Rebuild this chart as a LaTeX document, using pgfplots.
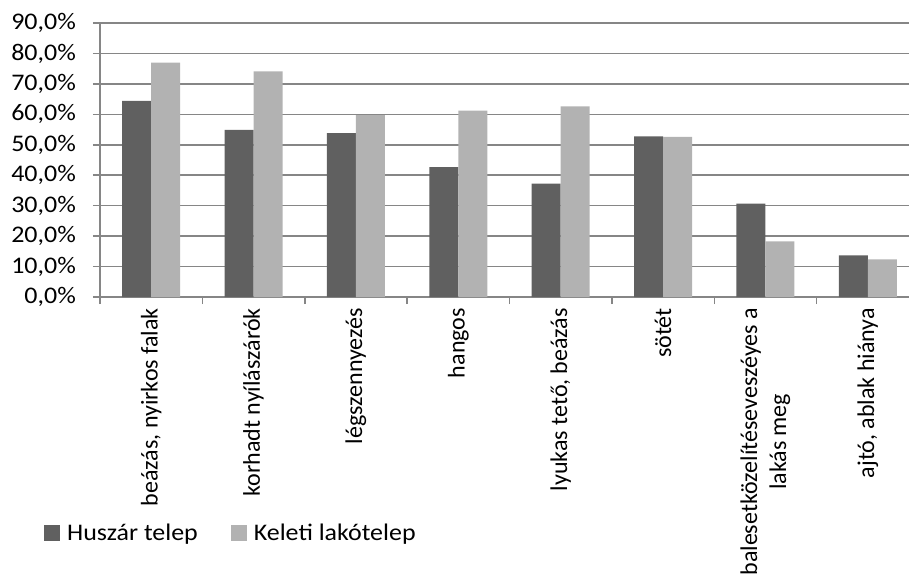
\documentclass[border=0pt]{standalone}
\usepackage{fontspec}
\setmainfont{Carlito}
\newfontfamily\hfont{Carlito}[FakeStretch=1.09]
\usepackage{pgfplots}
\pgfplotsset{compat=1.18}

\definecolor{huszar}{RGB}{96,96,96}
\definecolor{keleti}{RGB}{178,178,178}
\definecolor{gridc}{RGB}{134,134,134}

\begin{document}
\begin{tikzpicture}
\begin{axis}[
    name=ax,
    scale only axis,
    width=819pt, height=274pt,
    xmin=-0.5, xmax=7.5,
    ymin=0, ymax=90,
    axis x line*=bottom,
    axis y line*=left,
    axis line style={gridc, line width=1.5pt},
    ymajorgrids,
    grid style={gridc, line width=1.5pt},
    tick align=outside,
    major tick length=7pt,
    minor tick length=7pt,
    tick style={gridc, line width=1.5pt},
    ytick={0,10,...,90},
    yticklabels={{0,0\%},{10,0\%},{20,0\%},{30,0\%},{40,0\%},{50,0\%},{60,0\%},{70,0\%},{80,0\%},{90,0\%}},
    yticklabel style={font=\hfont\fontsize{23.8}{28}\selectfont, inner sep=0pt, xshift=-17pt},
    xtick={0,...,7},
    major x tick style={draw=none},
    minor xtick={-0.5,0.5,...,7.5},
    xticklabels={{beázás, nyirkos falak},{korhadt nyílászárók},{légszennyezés},{hangos},{lyukas tető, beázás},{sötét},{balesetközelítéseveszéyes a\\lakás meg},{ajtó, ablak hiánya}},
    xticklabel style={font=\fontsize{24}{29}\selectfont, rotate=90, anchor=east, align=center, inner sep=0pt, xshift=-4pt},
    ybar,
    bar width=0.283,
    legend columns=2,
    legend style={
        at={(axis description cs:-0.0684,-0.8613)}, anchor=west,
        draw=none, fill=none, inner sep=0pt,
        font=\hfont\fontsize{23.8}{28}\selectfont,
        nodes={inner sep=0pt},
        /tikz/every odd column/.append style={column sep=7pt},
        /tikz/every even column/.append style={column sep=33pt},
    },
    legend image code/.code={\fill[#1] (0pt,-8pt) rectangle (16pt,8pt);},
]
\addplot[fill=huszar, draw=none, bar shift=-0.1415] coordinates {
    (0,64.4) (1,54.9) (2,53.8) (3,42.7) (4,37.2) (5,52.8) (6,30.7) (7,13.7)
};
\addplot[fill=keleti, draw=none, bar shift=0.1415] coordinates {
    (0,77.0) (1,74.1) (2,59.7) (3,61.2) (4,62.6) (5,52.6) (6,18.3) (7,12.4)
};
\legend{Huszár telep, Keleti lakótelep}
\end{axis}
\pgfresetboundingbox
\path[use as bounding box] ([shift={(-100pt,-283pt)}]ax.south west) rectangle ([shift={(809pt,297pt)}]ax.south west);
\end{tikzpicture}
\end{document}
